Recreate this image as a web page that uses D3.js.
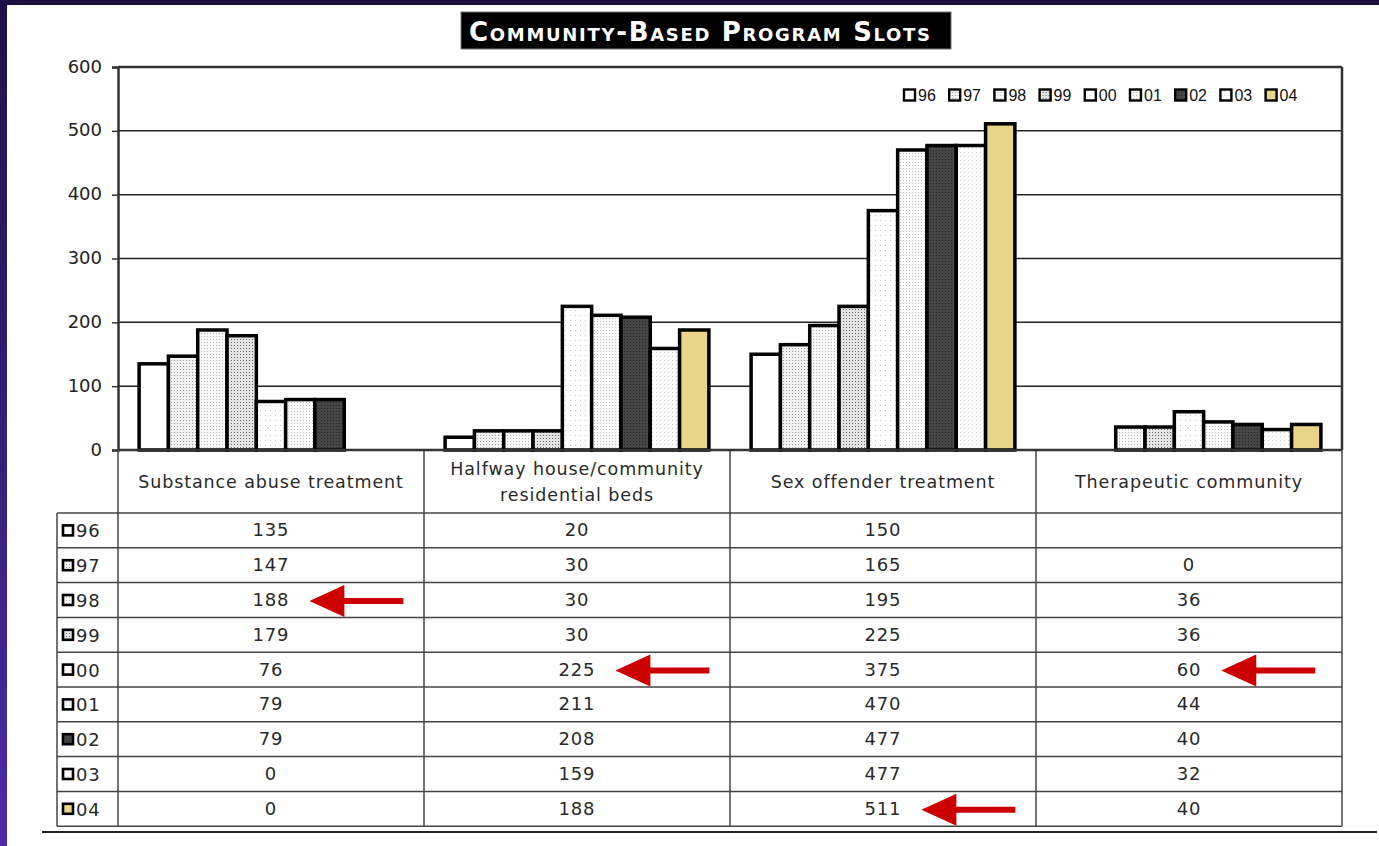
<!DOCTYPE html>
<html>
<head>
<meta charset="utf-8">
<script src="https://cdn.jsdelivr.net/npm/d3@7"></script>
<style>
  html, body { margin:0; padding:0; background:#1b1040; overflow:hidden; }
  svg { display:block; }
</style>
</head>
<body>
<svg id="chart" width="1379" height="846"></svg>
<script>
// data
var categories = ["Substance abuse treatment", "Halfway house/community residential beds", "Sex offender treatment", "Therapeutic community"];
var catLines = [["Substance abuse treatment"], ["Halfway house/community", "residential beds"], ["Sex offender treatment"], ["Therapeutic community"]];
var years = ["96", "97", "98", "99", "00", "01", "02", "03", "04"];
var v96 = [135, 20, 150, null];
var v97 = [147, 30, 165, 0];
var v98 = [188, 30, 195, 36];
var v99 = [179, 30, 225, 36];
var v00 = [76, 225, 375, 60];
var v01 = [79, 211, 470, 44];
var v02 = [79, 208, 477, 40];
var v03 = [0, 159, 477, 32];
var v04 = [0, 188, 511, 40];
var rows = [v96, v97, v98, v99, v00, v01, v02, v03, v04];
var yTicks = [0, 100, 200, 300, 400, 500, 600];
// red arrows point at these table cells (year, category index)
var arrows = [{year:"98", cat:0}, {year:"00", cat:1}, {year:"00", cat:3}, {year:"04", cat:2}];

var svg = d3.select("#chart");
var defs = svg.append("defs");

// background
var grad = defs.append("linearGradient").attr("id","side").attr("x1",0).attr("y1",0).attr("x2",0).attr("y2",1);
grad.append("stop").attr("offset","0%").attr("stop-color","#1e1248");
grad.append("stop").attr("offset","100%").attr("stop-color","#4b2ba6");
svg.append("rect").attr("x",0).attr("y",0).attr("width",1379).attr("height",846).attr("fill","#1b1040");
svg.append("rect").attr("x",0).attr("y",0).attr("width",7).attr("height",846).attr("fill","url(#side)");
svg.append("rect").attr("x",7).attr("y",5).attr("width",1372).attr("height",841).attr("fill","#ffffff");

// fill patterns
function dotPattern(id, size, bg, dot, r){
	var p = defs.append("pattern").attr("id",id).attr("patternUnits","userSpaceOnUse")
		.attr("width",size).attr("height",size);
	p.append("rect").attr("width",size).attr("height",size).attr("fill",bg);
	p.append("rect").attr("x",0).attr("y",0).attr("width",r).attr("height",r).attr("fill",dot);
};
dotPattern("p97", 3, "#f2f2f2", "#9a9a9a", 1);
dotPattern("p98", 3, "#f8f8f8", "#b4b4b4", 1);
dotPattern("p99", 3, "#e4e4e4", "#666666", 1);
dotPattern("p00", 5, "#ffffff", "#c8c8c8", 1);
dotPattern("p01", 3, "#fafafa", "#c0c0c0", 1);
dotPattern("p02", 3, "#464646", "#262626", 1);
dotPattern("p03", 4, "#ffffff", "#d0d0d0", 1);
var fills = {"96":"#ffffff","97":"url(#p97)","98":"url(#p98)","99":"url(#p99)","00":"url(#p00)",
	"01":"url(#p01)","02":"url(#p02)","03":"url(#p03)","04":"#e9d488"};

// plot geometry
var plotL = 118, plotR = 1342, plotT = 67, plotB = 450;
var x0 = d3.scaleBand().domain(categories).range([plotL, plotR]);
var x1 = d3.scaleBand().domain(years).range([0, x0.bandwidth()]).paddingInner(0).paddingOuter(0.72);
var y = d3.scaleLinear().domain([0, 600]).range([plotB, plotT]);

// gridlines
svg.append("g").selectAll("line").data(yTicks).enter().append("line")
	.attr("x1",plotL).attr("x2",plotR)
	.attr("y1",function(d){return y(d)}).attr("y2",function(d){return y(d)})
	.attr("stroke","#222").attr("stroke-width",1.5);
svg.append("line").attr("x1",plotR).attr("x2",plotR).attr("y1",plotT).attr("y2",plotB)
	.attr("stroke","#333").attr("stroke-width",2.5);
svg.append("line").attr("x1",plotL).attr("x2",plotR).attr("y1",plotT).attr("y2",plotT)
	.attr("stroke","#333").attr("stroke-width",2.5);

// y axis
var yAxis = svg.append("g").attr("transform","translate("+plotL+",0)")
	.call(d3.axisLeft(y).tickValues(yTicks).tickSize(6).tickPadding(10));
yAxis.select(".domain").attr("stroke","#333").attr("stroke-width",2.5);
yAxis.selectAll(".tick line").attr("stroke","#333").attr("stroke-width",1.5);
yAxis.selectAll("text").attr("font-family","'DejaVu Sans', Verdana, sans-serif").attr("font-size","18px")
	.attr("fill","#222").attr("dy","0.28em");

// bars
var barData = [];
rows.forEach(function(r, i){
	r.forEach(function(v, j){
		if (v) barData.push({year:years[i], cat:categories[j], value:v});
	});
});
svg.append("g").selectAll("rect").data(barData).enter().append("rect")
	.attr("x",function(d){return x0(d.cat)+x1(d.year)})
	.attr("y",function(d){return y(d.value)})
	.attr("width",x1.bandwidth())
	.attr("height",function(d){return plotB-y(d.value)})
	.attr("fill",function(d){return fills[d.year]})
	.attr("stroke","#000").attr("stroke-width",3.5);

// legend
var legend = svg.append("g").attr("font-family","Arial, 'Liberation Sans', sans-serif").attr("font-size","16px");
var legItem = legend.selectAll("g").data(years).enter().append("g")
	.attr("transform",function(d,i){return "translate("+(904+i*45.2)+",95)"});
legItem.append("rect").attr("x",0).attr("y",-5.5).attr("width",11).attr("height",11)
	.attr("fill",function(d){return fills[d]}).attr("stroke","#000").attr("stroke-width",2.4);
legItem.append("text").attr("x",14).attr("y",6).attr("fill","#111").text(function(d){return d});

// data table
var tTop = plotB, headH = 63, rowH = 34.8, legL = 57;
var tBottom = tTop + headH + rowH*years.length;
var tfont = "'DejaVu Sans', Verdana, sans-serif";
var grid = svg.append("g").attr("stroke","#444").attr("stroke-width",1.5);
// verticals
var vx = [plotL].concat(categories.map(function(c){return x0(c)+x0.bandwidth()}));
vx.forEach(function(xv){
	grid.append("line").attr("x1",xv).attr("x2",xv).attr("y1",tTop).attr("y2",tBottom);
});
grid.append("line").attr("x1",legL).attr("x2",legL).attr("y1",tTop+headH).attr("y2",tBottom);
// horizontals
d3.range(years.length+1).forEach(function(i){
	var yy = tTop+headH+i*rowH;
	grid.append("line").attr("x1",legL).attr("x2",plotR).attr("y1",yy).attr("y2",yy);
});
svg.append("line").attr("x1",plotL).attr("x2",plotR).attr("y1",plotB).attr("y2",plotB)
	.attr("stroke","#333").attr("stroke-width",2.5);

// header labels
var head = svg.append("g").attr("font-family",tfont).attr("font-size","17.5px").attr("fill","#2a2a2a")
	.attr("text-anchor","middle").style("letter-spacing","0.9px");
catLines.forEach(function(lines, j){
	var cx = x0(categories[j]) + x0.bandwidth()/2;
	var y0 = tTop + headH/2 + 6 - (lines.length-1)*13;
	lines.forEach(function(t, k){
		head.append("text").attr("x",cx).attr("y",y0+k*26).text(t);
	});
});

// row legend cells
var rowG = svg.append("g").attr("font-family",tfont).attr("font-size","18px").attr("fill","#2a2a2a")
	.style("letter-spacing","0.8px");
years.forEach(function(yr, i){
	var cy = tTop + headH + i*rowH + rowH/2;
	rowG.append("rect").attr("x",legL+6).attr("y",cy-5).attr("width",10).attr("height",10)
		.attr("fill",fills[yr]).attr("stroke","#000").attr("stroke-width",2.6);
	rowG.append("text").attr("x",legL+19).attr("y",cy+7).text(yr);
});

// cell values
var cellText = {};
years.forEach(function(yr, i){
	var cy = tTop + headH + i*rowH + rowH/2;
	rows[i].forEach(function(v, j){
		if (v === null) return;
		var t = rowG.append("text").attr("x",x0(categories[j])+x0.bandwidth()/2).attr("y",cy+6)
			.attr("text-anchor","middle").text(v);
		cellText[yr+"_"+j] = t;
	});
});

// bottom rule
svg.append("line").attr("x1",42).attr("x2",1377).attr("y1",832).attr("y2",832)
	.attr("stroke","#222").attr("stroke-width",2);

// title
var title = svg.append("g");
title.append("rect").attr("x",461).attr("y",12).attr("width",490).attr("height",37)
	.attr("fill","#000").attr("stroke","#777").attr("stroke-width",1);
title.append("text").attr("x",469).attr("y",41)
	.attr("font-family","'DejaVu Sans', Verdana, sans-serif").attr("font-weight","bold")
	.attr("font-size","26px").style("font-variant","small-caps").attr("fill","#fff")
	.attr("textLength",461).attr("lengthAdjust","spacing")
	.text("Community-Based Program Slots");

// red arrows
var arrowG = svg.append("g");
arrows.forEach(function(a){
	var t = cellText[a.year+"_"+a.cat];
	var bb = t.node().getBBox();
	var tipX = bb.x + bb.width + 20;
	var cy = tTop + headH + years.indexOf(a.year)*rowH + rowH/2 + 1;
	arrowG.append("path")
		.attr("d","M"+tipX+","+cy+" L"+(tipX+35)+","+(cy-16)+" L"+(tipX+35)+","+(cy-3)
			+" L"+(tipX+94)+","+(cy-3)+" L"+(tipX+94)+","+(cy+3)+" L"+(tipX+35)+","+(cy+3)
			+" L"+(tipX+35)+","+(cy+16)+" Z")
		.attr("fill","#cc0000");
});
</script>
</body>
</html>
